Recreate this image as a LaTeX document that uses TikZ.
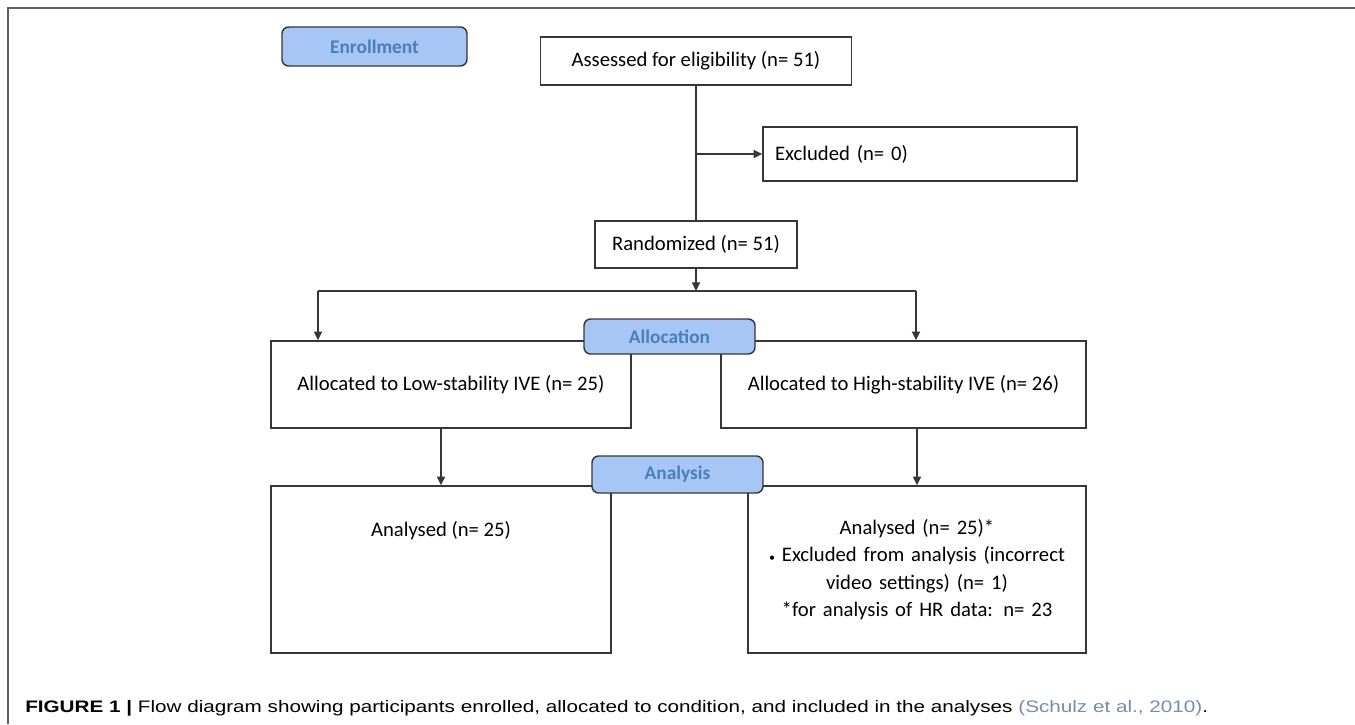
\documentclass[tikz,border=0pt]{standalone}
\usepackage{fontspec}
\setmainfont{Carlito}
\newfontfamily\capfont{Liberation Sans}
\usepackage{graphicx}
\usetikzlibrary{positioning,arrows.meta}
\definecolor{TabBlue}{RGB}{168,198,245}
\definecolor{TabText}{RGB}{74,126,187}
\definecolor{LineGrey}{RGB}{55,55,55}
\definecolor{FrameGrey}{RGB}{95,95,95}
\definecolor{CiteBlue}{RGB}{120,140,170}

\begin{document}
\begin{tikzpicture}[x=0.75pt,y=-0.75pt,
    >={Triangle[length=6.5pt,width=6pt]},
    box/.style={draw=LineGrey,line width=1.1pt,fill=white,inner sep=0pt,align=center,
                font=\fontsize{15.5}{20.6}\selectfont},
    tab/.style={draw=LineGrey,line width=1.1pt,fill=TabBlue,rounded corners=5pt,inner sep=0pt,
                text=TabText,font=\fontsize{14.5}{17}\selectfont\bfseries},
    line/.style={draw=LineGrey,line width=1.1pt},
    arrow/.style={line,->}]
  \useasboundingbox (0,0) rectangle (1355,724);
  \draw[FrameGrey,line width=1.5pt] (8,724) -- (8,8) -- (1355,8);
  % boxes
  \node[box,minimum width=233.25pt,minimum height=36pt] (assess) at (696,61) {Assessed for eligibility (n= 51)};
  \node[box,minimum width=235.5pt,minimum height=40.5pt,text width=217.5pt,align=left] (excl) at (920,154) {Excluded (n= 0)};
  \node[box,minimum width=151.5pt,minimum height=35.25pt] (rand) at (696,244.5) {Randomized (n= 51)};
  \node[box,minimum width=270pt,minimum height=65.25pt] (low) at (451,384.5) {Allocated to Low-stability IVE (n= 25)};
  \node[box,minimum width=273.75pt,minimum height=65.25pt] (high) at (903.5,384.5) {Allocated to High-stability IVE (n= 26)};
  \node[box,minimum width=255pt,minimum height=125.25pt,
        label={[font=\fontsize{15.5}{20.6}\selectfont,anchor=center,yshift=-33.75pt]north:Analysed (n= 25)}] (anaL) at (441,569.5) {};
  \node[box,minimum width=253.5pt,minimum height=125.25pt,text width=240pt] (anaR) at (917,569.5)
    {Analysed (n= 25)*\\ {\small\textbullet} Excluded from analysis (incorrect\\ video settings) (n= 1)\\ {}*for analysis of HR data: n= 23};
  % connectors
  \coordinate (splitL) at (318,291);
  \coordinate (splitR) at (916,291);
  \draw[line] (assess.south) -- (assess.south |- rand.north);
  \draw[arrow] (assess.south |- excl.west) -- (excl.west);
  \draw[arrow] (rand.south) -- (rand.south |- splitL);
  \draw[line] (splitL) -- (splitR);
  \draw[arrow] (splitL) -- (splitL |- low.north);
  \draw[arrow] (splitR) -- (splitR |- high.north);
  \draw[arrow] (anaL.north |- low.south) -- (anaL.north);
  \draw[arrow] (anaR.north |- high.south) -- (anaR.north);
  % stage tabs
  \node[tab,minimum width=138.75pt,minimum height=29.25pt] (enroll) at (374.5,46.5) {Enrollment};
  \node[tab,minimum width=128.25pt,minimum height=26.25pt] (alloc) at (669.5,336.5) {Allocation};
  \node[tab,minimum width=128.25pt,minimum height=27.75pt] (analysis) at (677.5,474.5) {Analysis};
  % caption
  \node[anchor=base west,inner sep=0pt,font=\capfont\fontsize{12.5}{15}\selectfont] (caption) at (25,712)
    {\resizebox{887pt}{\height}{\textbf{FIGURE 1 |} Flow diagram showing participants enrolled, allocated to condition, and included in the analyses \textcolor{CiteBlue}{(Schulz et al., 2010)}.}};
\end{tikzpicture}
\end{document}
